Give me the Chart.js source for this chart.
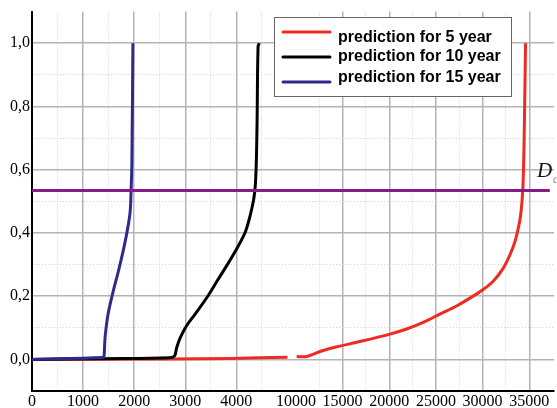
<!DOCTYPE html>
<html>
<head>
<meta charset="utf-8">
<script src="https://cdn.jsdelivr.net/npm/chart.js@4.4.1/dist/chart.umd.min.js"></script>
<style>
  html, body { margin: 0; padding: 0; background: #ffffff; }
  #wrap { width: 557px; height: 408px; }
</style>
</head>
<body>
<div id="wrap"><canvas id="c"></canvas></div>
<script>
// ---- axis ticks ----
const xMajorTicks = [0, 1000, 2000, 3000, 4000, 10000, 15000, 20000, 25000, 30000, 35000];
const xMinorTicks = [500, 1500, 2500, 3500, 4500, 12500, 17500, 22500, 27500, 32500];
const yMajorTicks = [0, 0.2, 0.4, 0.6, 0.8, 1.0];
const yMinorTicks = [0.1, 0.3, 0.5, 0.7, 0.9];

// ---- series ----
const seriesLabels = ['prediction for 5 year', 'prediction for 10 year', 'prediction for 15 year'];

const load5 = [0, 2700, 3900, 5000, 7500, 10080, 11150, 12900, 14700, 16500, 20070, 21860, 23630, 25420,
               27210, 28990, 30060, 31130, 32200, 32920, 33460, 33810, 34070, 34240, 34340, 34450, 34600];
const prob5 = [0, 0.001, 0.003, 0.007, null, 0.009, 0.009, 0.028, 0.042, 0.054, 0.080, 0.096, 0.117, 0.143,
               0.169, 0.200, 0.221, 0.247, 0.288, 0.330, 0.372, 0.413, 0.455, 0.507, 0.559, 0.695, 1.0];

const load10 = [0, 1390, 2700, 2790, 2830, 2900, 3020, 3200, 3420, 3620, 3820, 4010, 4175, 4270, 4340,
                4370, 4390, 4405, 4425, 4450];
const prob10 = [0, 0.002, 0.005, 0.011, 0.036, 0.068, 0.105, 0.145, 0.195, 0.247, 0.299, 0.351, 0.403,
                0.455, 0.507, 0.549, 0.622, 0.747, 0.99, 1.0];

const load15 = [0, 1390, 1410, 1430, 1490, 1590, 1690, 1780, 1860, 1920, 1940, 1955, 1975];
const prob15 = [0, 0.006, 0.01, 0.069, 0.144, 0.216, 0.278, 0.34, 0.403, 0.466, 0.5375, 0.622, 1.0];

const thresholdD = 0.534;
const thresholdSpan = [0, 37200];

const X_MAX = 37650;

// ---- broken x axis: 0..5000 stretched, 10000.. compressed ----
function axisPos(v) {
  if (v <= 5000) return v * 0.0511;
  if (v < 10000) return 255.5 + (v - 5000) * (8.5 / 5000);
  return 264 + (v - 10000) * (46.67 / 5000);
}
function axisValue(p) {
  if (p <= 255.5) return p / 0.0511;
  if (p < 264) return 5000 + (p - 255.5) * (5000 / 8.5);
  return 10000 + (p - 264) * (5000 / 46.67);
}

class BrokenLinearScale extends Chart.LinearScale {
  getPixelForValue(value) {
    if (value === null || value === undefined || isNaN(value)) return NaN;
    return this.getPixelForDecimal(axisPos(value) / axisPos(X_MAX));
  }
  getValueForPixel(pixel) {
    return axisValue(this.getDecimalForPixel(pixel) * axisPos(X_MAX));
  }
}
BrokenLinearScale.id = 'brokenLinear';
BrokenLinearScale.defaults = Chart.LinearScale.defaults;
Chart.register(BrokenLinearScale);

const zip = (xs, ys) => xs.map((x, i) => ({ x: x, y: ys[i] }));
const isIn = (list, v) => list.some(t => Math.abs(t - v) < 1e-6);

// ---- legend box and the D marker ----
const overlay = {
  id: 'overlay',
  afterDatasetsDraw(chart) {
    const ctx = chart.ctx;
    ctx.save();
    // legend frame
    ctx.fillStyle = '#ffffff';
    ctx.fillRect(274, 17, 237, 79);
    ctx.strokeStyle = '#666666';
    ctx.lineWidth = 1;
    ctx.strokeRect(274.5, 17.5, 237, 79);
    const lineY = [32, 57, 82];
    const textY = [38, 57, 78];
    const colors = { };
    chart.data.datasets.forEach(d => { colors[d.label] = d.borderColor; });
    ctx.font = 'bold 16px "Liberation Sans", Arial, sans-serif';
    ctx.textBaseline = 'middle';
    ctx.textAlign = 'left';
    seriesLabels.forEach((lab, i) => {
      ctx.strokeStyle = colors[lab];
      ctx.lineWidth = 3;
      ctx.lineCap = 'round';
      ctx.beginPath();
      ctx.moveTo(283, lineY[i]);
      ctx.lineTo(330, lineY[i]);
      ctx.stroke();
      ctx.fillStyle = '#000000';
      ctx.fillText(lab, 338, textY[i]);
    });
    // threshold label
    ctx.fillStyle = '#111111';
    ctx.font = 'italic 21px "Liberation Serif", "Times New Roman", serif';
    ctx.textBaseline = 'alphabetic';
    ctx.fillText('D', 537, 177);
    ctx.fillStyle = '#888888';
    ctx.font = 'italic 12px "Liberation Serif", serif';
    ctx.fillText('c', 553, 183);
    ctx.restore();
  }
};

const tickFont = { family: '"Liberation Serif", "Times New Roman", serif', size: 16 };

new Chart(document.getElementById('c'), {
  type: 'line',
  data: {
    datasets: [
      { label: 'D', data: zip(thresholdSpan, [thresholdD, thresholdD]), borderColor: '#8a1a88', borderWidth: 3, tension: 0 },
      { label: seriesLabels[2], data: zip(load15, prob15), borderColor: '#2f2a8a', borderWidth: 3 },
      { label: seriesLabels[1], data: zip(load10, prob10), borderColor: '#000000', borderWidth: 3 },
      { label: seriesLabels[0], data: zip(load5, prob5), borderColor: '#ee2a22', borderWidth: 3 }
    ]
  },
  options: {
    responsive: true,
    maintainAspectRatio: false,
    animation: false,
    spanGaps: false,
    elements: {
      point: { radius: 0 },
      line: { tension: 0.35, borderCapStyle: 'butt', borderJoinStyle: 'round' }
    },
    layout: { padding: { top: 7, right: 3, left: 0, bottom: 0 } },
    plugins: { legend: { display: false }, tooltip: { enabled: false } },
    scales: {
      x: {
        type: 'brokenLinear',
        min: 0,
        max: X_MAX,
        afterBuildTicks: s => {
          s.ticks = xMajorTicks.concat(xMinorTicks).sort((a, b) => a - b).map(v => ({ value: v }));
        },
        afterFit: s => { s.height = 17; },
        ticks: {
          autoSkip: false,
          maxRotation: 0,
          padding: 1,
          color: '#000000',
          font: tickFont,
          callback: v => (isIn(xMajorTicks, v) ? String(v) : '')
        },
        grid: {
          drawTicks: false,
          color: c => {
            if (!c.tick) return '#000';
            if (c.tick.value === 0 || c.tick.value === 10000) return 'rgba(0,0,0,0)';
            return isIn(xMajorTicks, c.tick.value) ? '#b4b4b4' : '#d2d2d2';
          },
          lineWidth: c => (c.tick && isIn(xMajorTicks, c.tick.value) ? 1.5 : 1)
        },
        border: {
          color: '#000000',
          width: 2,
          dash: c => (c.tick && isIn(xMinorTicks, c.tick.value) ? [1, 2] : [])
        }
      },
      y: {
        type: 'linear',
        min: -0.1,
        max: 1.1,
        afterBuildTicks: s => {
          const vals = [-0.1].concat(yMajorTicks, yMinorTicks, [1.1]).sort((a, b) => a - b);
          s.ticks = vals.map(v => ({ value: v }));
        },
        afterFit: s => { s.width = 32; },
        ticks: {
          autoSkip: false,
          padding: 2,
          color: '#000000',
          font: tickFont,
          callback: v => (isIn(yMajorTicks, v) ? v.toFixed(1).replace('.', ',') : '')
        },
        grid: {
          drawTicks: false,
          color: c => {
            if (!c.tick) return '#000';
            const v = c.tick.value;
            if (Math.abs(v + 0.1) < 1e-6 || Math.abs(v - 1.1) < 1e-6) return 'rgba(0,0,0,0)';
            return isIn(yMajorTicks, v) ? '#b4b4b4' : '#d2d2d2';
          },
          lineWidth: c => (c.tick && isIn(yMajorTicks, c.tick.value) ? 1.5 : 1)
        },
        border: {
          color: '#000000',
          width: 2,
          dash: c => (c.tick && isIn(yMinorTicks, c.tick.value) ? [1, 2] : [])
        }
      }
    }
  },
  plugins: [overlay]
});
</script>
</body>
</html>
